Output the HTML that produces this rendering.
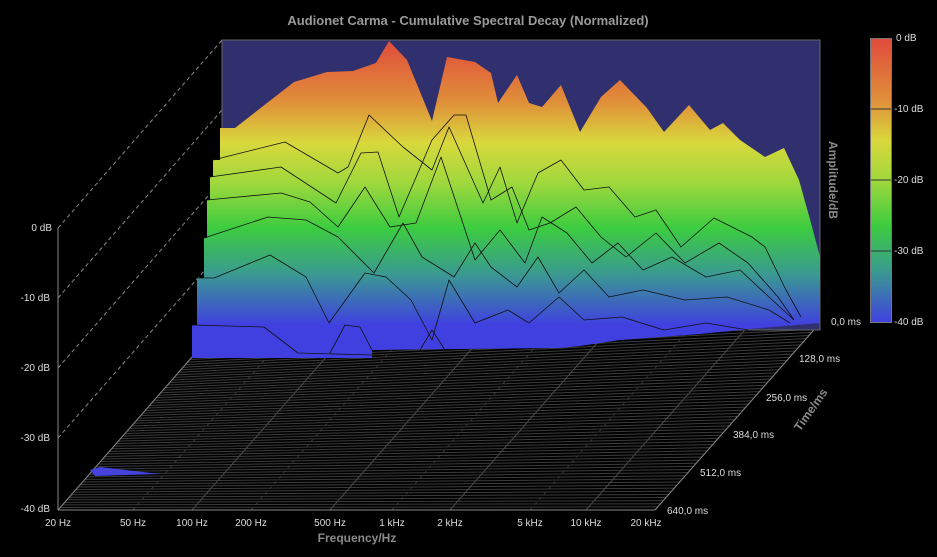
<!DOCTYPE html>
<html><head><meta charset="utf-8"><style>
html,body{margin:0;padding:0;background:#000;}
svg{display:block}
text{font-family:"Liberation Sans",sans-serif;}
</style></head><body>
<svg id="s" width="937" height="557" viewBox="0 0 937 557" xmlns="http://www.w3.org/2000/svg">
<defs>
<linearGradient id="g" x1="0" y1="40" x2="0" y2="325" gradientUnits="userSpaceOnUse">
<stop offset="0" stop-color="#e04a3c"/>
<stop offset="0.22" stop-color="#e0903a"/>
<stop offset="0.36" stop-color="#d9d83c"/>
<stop offset="0.5" stop-color="#a0d83c"/>
<stop offset="0.66" stop-color="#3ccc40"/>
<stop offset="0.82" stop-color="#3a9a90"/>
<stop offset="1" stop-color="#4040e0"/>
</linearGradient>
<linearGradient id="lg" x1="0" y1="0" x2="0" y2="1">
<stop offset="0" stop-color="#e04a3c"/>
<stop offset="0.22" stop-color="#e0903a"/>
<stop offset="0.36" stop-color="#d9d83c"/>
<stop offset="0.5" stop-color="#a0d83c"/>
<stop offset="0.66" stop-color="#3ccc40"/>
<stop offset="0.82" stop-color="#3a9a90"/>
<stop offset="1" stop-color="#4040e0"/>
</linearGradient>
</defs>
<text x="468" y="25" text-anchor="middle" font-size="13" font-weight="bold" fill="#9a9a9a">Audionet Carma - Cumulative Spectral Decay (Normalized)</text>
<g id="floor" stroke="#4a4a4a" stroke-width="1" fill="none"></g>
<line x1="58" y1="228" x2="58" y2="510" stroke="#888"/>
<line x1="58" y1="510" x2="655" y2="510" stroke="#888"/>
<line x1="58" y1="510" x2="192" y2="357" stroke="#888"/>
<line x1="655" y1="510" x2="820" y2="323" stroke="#888"/>
<g stroke="#888" stroke-dasharray="4,3" fill="none">
<line x1="58" y1="228" x2="222" y2="40"/>
<line x1="58" y1="298" x2="222" y2="110"/>
<line x1="58" y1="368" x2="215" y2="188"/>
<line x1="58" y1="438" x2="205" y2="270"/>
</g>
<g font-size="10" fill="#ddd" text-anchor="end">
<text x="52" y="231">0 dB</text><text x="50" y="301">-10 dB</text><text x="50" y="371">-20 dB</text><text x="50" y="441">-30 dB</text><text x="50" y="512">-40 dB</text>
</g>
<rect x="222" y="40" width="598" height="290" fill="#30306e" stroke="#666" stroke-width="1"/>
<polygon fill="url(#g)" points="222,128 235,128 294,82 327,72 353,71 376,63 389,41 407,60 432,121 447,57 475,62 491,73 498,103 517,75 529,103 542,107 561,85 580,132 601,97 620,80 647,108 664,132 689,105 710,130 723,123 740,140 765,157 784,148 799,180 811,223 820,257 820,323 760,328 700,334 620,340 580,346 560,348 372,350 372,358 192,358 192,325 197,325 197,278 204,278 204,238 207,238 207,200 210,200 210,177 213,177 213,160 220,160 220,128"/>
<polygon fill="#4444dd" points="90,470 100,467 160,474 95,476"/>
<g fill="none" stroke="#111" stroke-width="0.8" stroke-linejoin="round">
<polyline points="213,160 285,142 338,173 348,167 369,115 403,147 432,170 449,127 483,203 500,167 517,223 538,173 561,160 584,190 609,187 635,217 656,210 681,247 714,218 752,237 765,247 786,290 801,317"/>
<polyline points="210,177 281,167 336,203 361,153 378,152 399,217 432,140 454,115 466,115 491,200 512,187 529,230 550,223 576,207 601,237 626,257 656,233 685,263 719,243 748,263 778,297 794,320"/>
<polyline points="207,200 281,193 310,202 338,227 365,187 390,227 416,223 441,157 475,260 500,230 525,263 542,217 567,233 592,263 618,243 643,270 672,257 706,277 740,270 769,297 794,320"/>
<polyline points="204,238 268,217 306,220 338,237 374,273 403,223 422,257 454,277 475,243 491,267 517,287 538,257 559,293 584,270 609,297 643,290 685,300 727,297 769,310 790,323"/>
<polyline points="197,278 214,278 270,255 306,277 329,323 365,273 386,277 411,300 432,340 449,280 475,323 508,310 529,323 559,297 584,320 622,317 664,330 706,323 748,330"/>
<polyline points="192,325 264,327 298,353 372,355"/>
<polyline points="330,353 345,325 360,327 372,350"/>
<polyline points="420,350 432,330 445,350"/>
</g>
<g font-size="10" fill="#ddd" text-anchor="middle">
<text x="58" y="526">20 Hz</text><text x="133" y="526">50 Hz</text><text x="192" y="526">100 Hz</text><text x="251" y="526">200 Hz</text><text x="330" y="526">500 Hz</text><text x="392" y="526">1 kHz</text><text x="450" y="526">2 kHz</text><text x="530" y="526">5 kHz</text><text x="586" y="526">10 kHz</text><text x="646" y="526">20 kHz</text>
</g>
<g font-size="10" fill="#ddd">
<text x="831" y="325">0,0 ms</text><text x="799" y="362">128,0 ms</text><text x="766" y="401">256,0 ms</text><text x="733" y="438">384,0 ms</text><text x="700" y="476">512,0 ms</text><text x="667" y="514">640,0 ms</text>
</g>
<text x="357" y="542" text-anchor="middle" font-size="12" font-weight="bold" fill="#8a8a8a">Frequency/Hz</text>
<text transform="translate(814,412) rotate(-55)" text-anchor="middle" font-size="12" font-weight="bold" fill="#8a8a8a">Time/ms</text>
<text transform="translate(829,180) rotate(90)" text-anchor="middle" font-size="12" font-weight="bold" fill="#8a8a8a">Amplitude/dB</text>
<rect x="870.5" y="38.5" width="21" height="284" fill="url(#lg)" stroke="#777"/>
<g stroke="#333"><line x1="871" y1="109" x2="891" y2="109"/><line x1="871" y1="180" x2="891" y2="180"/><line x1="871" y1="251" x2="891" y2="251"/></g>
<g font-size="10" fill="#ddd">
<text x="896" y="41">0 dB</text><text x="894" y="112">-10 dB</text><text x="894" y="183">-20 dB</text><text x="894" y="254">-30 dB</text><text x="894" y="325">-40 dB</text>
</g>
</svg>
<script>
var f=document.getElementById('floor'),ns='http://www.w3.org/2000/svg';
function L(a,b,c,d,op,da){var l=document.createElementNS(ns,'line');l.setAttribute('x1',a);l.setAttribute('y1',b);l.setAttribute('x2',c);l.setAttribute('y2',d);if(op)l.setAttribute('stroke-opacity',op);if(da)l.setAttribute('stroke-dasharray',da);f.appendChild(l);}
var N=60;
for(var i=0;i<=N;i++){var t=i/N;L(192-134*t,357+153*t,820-165*t,323+187*t,0.8);}
var fx=[58,133,192,251,330,392,450,530,586,655];
for(var k=0;k<fx.length;k++){var r=(fx[k]-58)/597;var bx=192+628*r,by=357-34*r;var solid=(k==2||k==4||k==6||k==8);L(fx[k],510,bx,by,solid?1:0.7,solid?null:'3,4');}
</script>
</body></html>
